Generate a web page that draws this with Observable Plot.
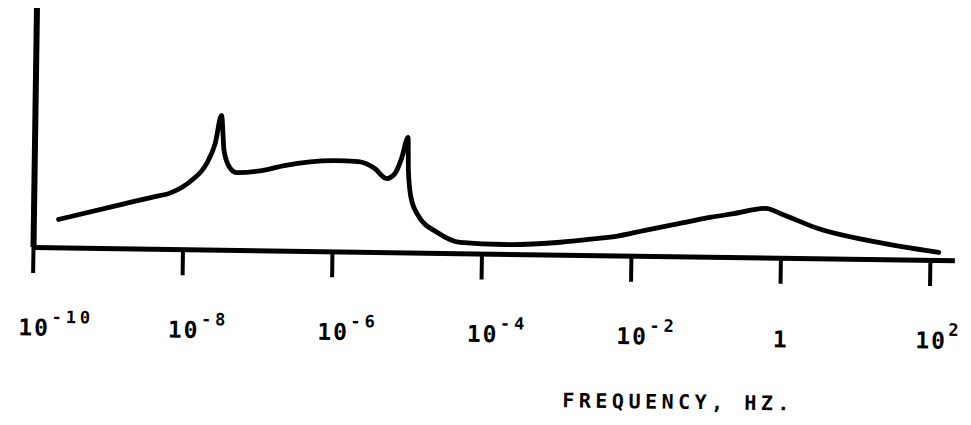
<!DOCTYPE html>
<html>
<head>
<meta charset="utf-8">
<script src="https://cdn.jsdelivr.net/npm/d3@7"></script>
<script src="https://cdn.jsdelivr.net/npm/@observablehq/plot@0.6"></script>
<style>
  html, body { margin: 0; padding: 0; background: #fff; }
  #chart { width: 971px; height: 425px; overflow: hidden; }
</style>
</head>
<body>
<div id="chart"></div>
<script>
// log10 of frequency (Hz) for points along the curve
const logFreq = [-9.67, -8.84, -8.44, -8.17, -8.03, -7.90, -7.70, -7.59, -7.51, -7.47, -7.39, -7.30,
  -6.96, -6.66, -5.99, -5.67, -5.45, -5.29, -5.18, -5.09, -5.01, -5.00, -4.96, -4.86,
  -4.60, -4.29, -3.71, -2.95, -2.51, -2.19, -1.84, -1.39, -0.94, -0.64, -0.21, -0.01, 0.49, 1.16, 2.11];
// relative spectral amplitude (arbitrary units, axis top = 100)
const amplitude = [11.9, 18.5, 21.6, 23.8, 26.0, 29.0, 36.2, 44.6, 56.4, 41.7, 34.6, 32.6,
  33.6, 35.8, 38.2, 37.9, 35.1, 31.0, 33.1, 39.9, 48.3, 34.5, 23.2, 15.7,
  8.7, 4.7, 4.1, 5.4, 7.0, 8.3, 10.8, 13.8, 16.8, 18.4, 20.8, 18.7, 12.7, 8.0, 3.4];
// tick exponents (10^e Hz)
const tickExp = [-10, -8, -6, -4, -2, 0, 2];
const axisTitle = "FREQUENCY, HZ.";

const data = logFreq.map((e, i) => ({f: Math.pow(10, e), a: amplitude[i]}));
const ticks = tickExp.map(e => ({f: Math.pow(10, e), e}));
const powTicks = ticks.filter(d => d.e !== 0);
const unitTicks = ticks.filter(d => d.e === 0);

const svg = Plot.plot({
  width: 971,
  height: 425,
  marginLeft: 33,
  marginRight: 16,
  marginTop: 8,
  marginBottom: 178,
  x: {type: "log", domain: [1e-10, 1e2], range: [33, 930]},
  y: {domain: [0, 100], axis: null},
  style: {background: "white", color: "black", overflow: "visible"},
  marks: [
    Plot.ruleY([0], {stroke: "black", strokeWidth: 5}),
    Plot.ruleX([1e-10], {y1: 0, y2: 100, stroke: "black", strokeWidth: 6}),
    Plot.axisX({ticks: tickExp.map(e => Math.pow(10, e)), tickSize: 26, strokeWidth: 4,
      stroke: "black", strokeOpacity: 1, tickFormat: () => "", label: null}),
    Plot.line(data, {x: "f", y: "a", curve: "monotone-x", stroke: "black", strokeWidth: 4.8,
      strokeLinejoin: "round", strokeLinecap: "round"}),
    Plot.text(powTicks, {x: "f", y: () => 0, text: () => "10", dx: -14, dy: 88,
      textAnchor: "start", lineAnchor: "bottom", fontFamily: "DejaVu Sans Mono",
      fontWeight: "bold", fontSize: 23, fill: "black"}),
    Plot.text(powTicks, {x: "f", y: () => 0, text: d => (d.e < 0 ? "-" + Math.abs(d.e) : String(d.e)),
      dx: 19, dy: 75, textAnchor: "start", lineAnchor: "bottom", fontFamily: "DejaVu Sans Mono",
      fontWeight: "bold", fontSize: 17, fill: "black"}),
    Plot.text(unitTicks, {x: "f", y: () => 0, text: () => "1", dx: 1, dy: 89,
      textAnchor: "middle", lineAnchor: "bottom", fontFamily: "DejaVu Sans Mono",
      fontWeight: "bold", fontSize: 23, fill: "black"}),
    Plot.text([axisTitle], {frameAnchor: "bottom-left", text: d => d, dx: 531, dy: 152,
      textAnchor: "start", lineAnchor: "bottom", fontFamily: "DejaVu Sans Mono",
      fontWeight: "bold", fontSize: 20, fill: "black"})
  ]
});
svg.querySelectorAll("text").forEach(t => {
  const holder = t.closest("[font-size]");
  const fs = parseFloat(holder ? holder.getAttribute("font-size") : "0");
  if (t.textContent === axisTitle) t.style.letterSpacing = "4.5px";
  else if (fs === 23) t.style.letterSpacing = "2px";
  else if (fs === 17) t.style.letterSpacing = "4px";
});
svg.style.transformOrigin = "33px 247px";
svg.style.transform = "rotate(0.83deg)";
document.getElementById("chart").appendChild(svg);
</script>
</body>
</html>
